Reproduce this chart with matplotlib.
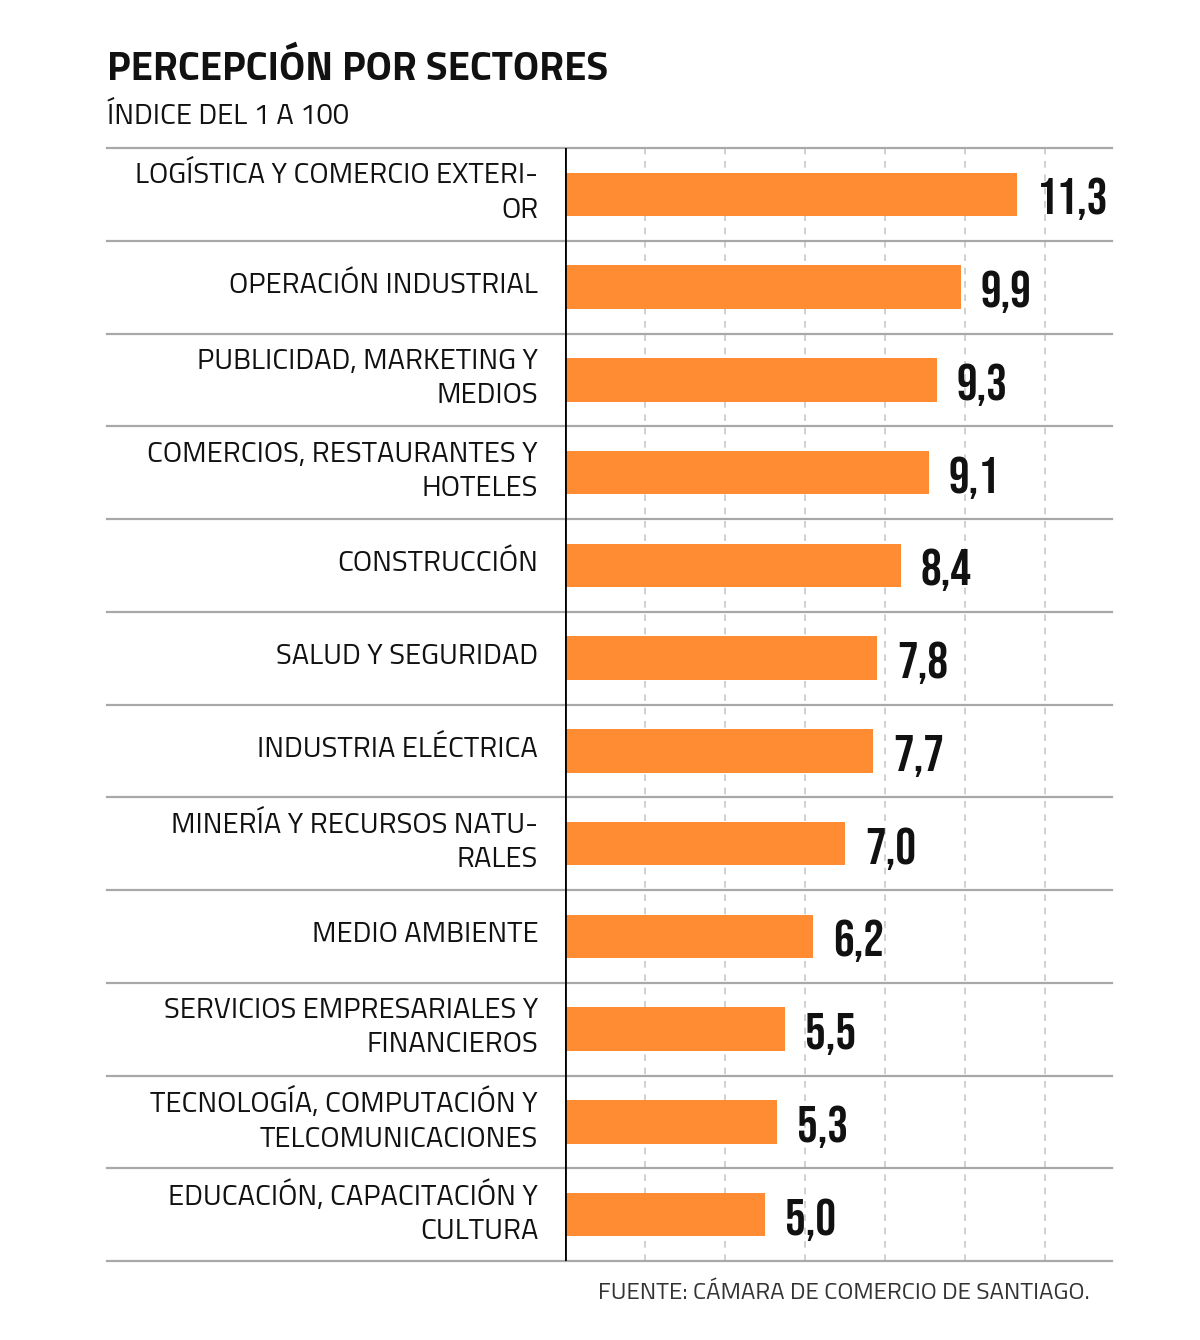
import matplotlib
matplotlib.use("Agg")
import matplotlib.pyplot as plt
import matplotlib.transforms as mtransforms

# datos
sectores = [
    "LOGÍSTICA Y COMERCIO EXTERI-\nOR",
    "OPERACIÓN INDUSTRIAL",
    "PUBLICIDAD, MARKETING Y\nMEDIOS",
    "COMERCIOS, RESTAURANTES Y\nHOTELES",
    "CONSTRUCCIÓN",
    "SALUD Y SEGURIDAD",
    "INDUSTRIA ELÉCTRICA",
    "MINERÍA Y RECURSOS NATU-\nRALES",
    "MEDIO AMBIENTE",
    "SERVICIOS EMPRESARIALES Y\nFINANCIEROS",
    "TECNOLOGÍA, COMPUTACIÓN Y\nTELCOMUNICACIONES",
    "EDUCACIÓN, CAPACITACIÓN Y\nCULTURA",
]
valores = [11.3, 9.9, 9.3, 9.1, 8.4, 7.8, 7.7, 7.0, 6.2, 5.5, 5.3, 5.0]
grid_ticks = [2, 4, 6, 8, 10, 12]

fuente = ["Titillium Web", "DejaVu Sans"]
cifras = ["Bebas Neue", "DejaVu Sans"]
naranja = "#FF8C33"

fig = plt.figure(figsize=(12, 13.4), dpi=100)
ax = fig.add_axes([565/1200, 1-1261/1340, (1112-565)/1200, (1261-148)/1340])

n = len(valores)
ypos = list(range(n))
ax.barh(ypos, valores, height=0.47, color=naranja, zorder=3)
ax.set_xlim(0, 547/40)
ax.set_ylim(n - 0.5, -0.5)

for g in grid_ticks:
    ax.axvline(g, color="#c8c8c8", lw=1.2, ls=(0, (4, 4)), zorder=1)

# separadores de filas
for k in range(n + 1):
    ax.axhline(k - 0.5, xmin=-0.837, xmax=1, color="#a8a8a8", lw=1.6,
               clip_on=False, zorder=2)

ax.axvline(0, color="black", lw=2, zorder=4)

for s in ax.spines.values():
    s.set_visible(False)
ax.set_xticks([])
ax.set_yticks([])

trans = mtransforms.blended_transform_factory(ax.transAxes, ax.transData)
for i, (lab, v) in enumerate(zip(sectores, valores)):
    ax.text(-0.049, i - 0.01, lab, transform=trans, ha="right", va="center",
            fontsize=21, family=fuente, color="#111111", linespacing=1.3)
    ax.text(v + 0.5, i + 0.05, f"{v:.1f}".replace(".", ","), ha="left",
            va="center", fontsize=37, family=cifras, color="#111111")

fig.text(107/1200, 1-69/1340, "PERCEPCIÓN POR SECTORES", ha="left",
         va="center", fontsize=29, family=fuente, fontweight="bold",
         color="#111111")
fig.text(107/1200, 1-117/1340, "ÍNDICE DEL 1 A 100", ha="left",
         va="center", fontsize=21, family=fuente, color="#111111")
fig.text(1090/1200, 1-1293/1340, "FUENTE: CÁMARA DE COMERCIO DE SANTIAGO.",
         ha="right", va="center", fontsize=17.5, family=fuente,
         color="#333333")

fig.savefig("out.png", dpi=100, facecolor="white")
